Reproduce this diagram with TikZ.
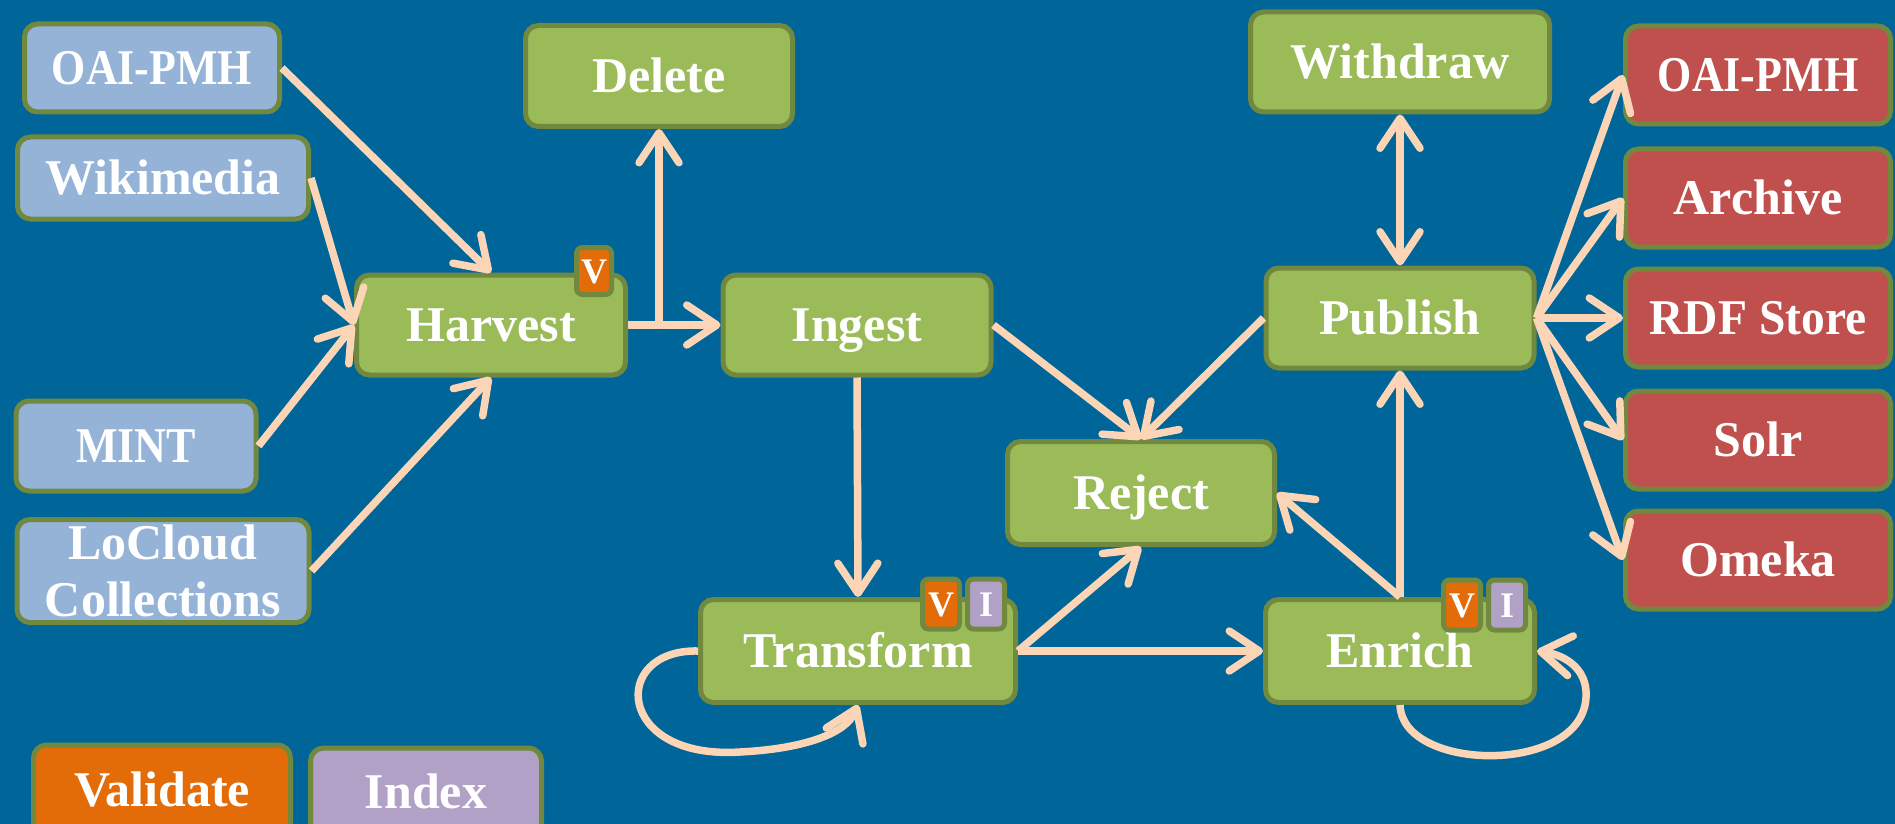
\documentclass[tikz,border=0pt]{standalone}
\usepackage{fontspec}
\usepackage{graphicx}
\setmainfont{Liberation Serif}
\usetikzlibrary{arrows.meta}
\definecolor{bg}{RGB}{0,101,153}
\definecolor{gfill}{RGB}{155,187,89}
\definecolor{gborder}{RGB}{113,137,63}
\definecolor{bfill}{RGB}{149,179,215}
\definecolor{rfill}{RGB}{192,80,77}
\definecolor{ofill}{RGB}{227,108,9}
\definecolor{pfill}{RGB}{178,161,199}
\definecolor{arrowc}{RGB}{251,213,181}
\tikzset{
  box/.style={draw=gborder, line width=5pt, rounded corners=13pt, inner sep=0pt,
    font=\fontsize{50}{57}\selectfont\bfseries, text=white, align=center,
    text height=33pt, text depth=0pt},
  gbox/.style={box, fill=gfill},
  bbox/.style={box, fill=bfill},
  rbox/.style={box, fill=rfill, minimum width=265pt, minimum height=98pt},
  badge/.style={draw=gborder, line width=5pt, rounded corners=6pt, inner sep=0pt,
    minimum width=37pt, minimum height=50pt, text=white,
    font=\fontsize{36}{40}\selectfont\bfseries, text height=24pt, text depth=0pt},
  tip/.tip={Straight Barb[round, length=30pt, width=40pt]},
  conn/.style={draw=arrowc, line width=7.5pt, -tip},
  dconn/.style={draw=arrowc, line width=7.5pt, tip-tip},
}
\begin{document}
\begin{tikzpicture}[x=1pt, y=-1pt]
\useasboundingbox (0,0) rectangle (1895,824);
\fill[bg] (0,0) rectangle (1895,824);

% sources
\node[bbox, minimum width=255pt, minimum height=88pt] (oail) at (152,68) {\scalebox{0.88}[1]{OAI-PMH}};
\node[bbox, minimum width=291pt, minimum height=82pt] (wiki) at (163,178) {Wikimedia};
\node[bbox, minimum width=240pt, minimum height=90pt] (mint) at (136,446) {\scalebox{0.88}[1]{MINT}};
\node[bbox, minimum width=292pt, minimum height=103pt, text height=90pt, text depth=0pt] (locloud) at (163,571) {LoCloud\\Collections};

% process
\node[gbox, minimum width=267pt, minimum height=101pt] (delete) at (659,76) {Delete};
\node[gbox, minimum width=269pt, minimum height=100pt] (harvest) at (491,325) {Harvest};
\node[gbox, minimum width=268pt, minimum height=100pt] (ingest) at (857,325) {Ingest};
\node[gbox, minimum width=315pt, minimum height=103pt] (transform) at (858,651) {Transform};
\node[gbox, minimum width=267pt, minimum height=103pt] (reject) at (1141,493) {Reject};
\node[gbox, minimum width=269pt, minimum height=103pt] (enrich) at (1400,651) {Enrich};
\node[gbox, minimum width=299pt, minimum height=100pt] (withdraw) at (1400,62) {Withdraw};
\node[gbox, minimum width=268pt, minimum height=100pt] (publish) at (1400,318) {Publish};

% badges
\node[badge, fill=ofill, minimum width=35pt, minimum height=47pt] (hv) at (594,271) {V};
\node[badge, fill=ofill] (tv) at (941,604) {V};
\node[badge, fill=pfill] (ti) at (986,604) {I};
\node[badge, fill=ofill] (ev) at (1462,605) {V};
\node[badge, fill=pfill] (ei) at (1507,605) {I};

% targets
\node[rbox] (roai) at (1758,75) {\scalebox{0.88}[1]{OAI-PMH}};
\node[rbox] (archive) at (1758,198) {Archive};
\node[rbox] (rdf) at (1758,318) {\scalebox{0.95}[1]{RDF Store}};
\node[rbox] (solr) at (1758,440) {Solr};
\node[rbox] (omeka) at (1758,560) {Omeka};

% legend
\node[box, fill=ofill, minimum width=257pt, minimum height=90pt] (validate) at (162,790) {Validate};
\node[box, fill=pfill, minimum width=231pt, minimum height=88pt] (index) at (426,792) {Index};

% connectors
\draw[conn] (oail.east) -- (harvest.north);
\draw[conn] (wiki.east) -- (harvest.west);
\draw[conn] (mint.east) -- (harvest.west);
\draw[conn] (locloud.east) -- (harvest.south);
\draw[conn] (harvest.east) -- (ingest.west);
\coordinate (split) at ([yshift=-4pt]delete.south |- harvest.east);
\draw[conn] (split) -- (delete.south);
\draw[conn] (ingest.south) -- (transform.north);
\draw[conn] (ingest.east) -- (reject.north);
\draw[conn] (publish.west) -- (reject.north);
\draw[conn] (transform.east) -- (reject.south);
\draw[conn] (transform.east) -- (enrich.west);
\draw[conn] (enrich.north) -- (reject.east);
\draw[conn] (enrich.north) -- (publish.south);
\draw[dconn] (withdraw.south) -- (publish.north);
\foreach \t in {roai,archive,rdf,solr,omeka}
  \draw[conn] (publish.east) -- (\t.west);

% loops
\draw[conn] (transform.west) .. controls (610,649) and (615,760) .. (740,752)
  .. controls (800,749) and (845,735) .. (transform.south);
\draw[conn] (enrich.south) .. controls (1402,770) and (1570,775) .. (1585,705)
  .. controls (1592,670) and (1565,655) .. (enrich.east);
\end{tikzpicture}
\end{document}
